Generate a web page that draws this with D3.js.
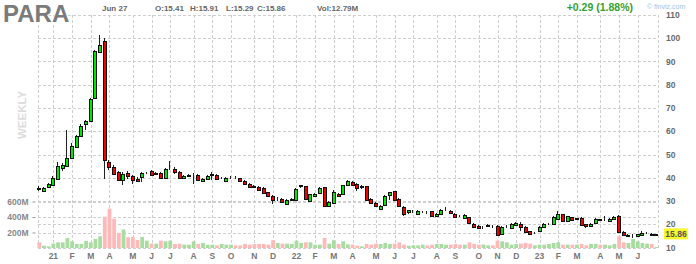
<!DOCTYPE html>
<html>
<head>
<meta charset="utf-8">
<script src="https://cdn.jsdelivr.net/npm/d3@7"></script>
<style>
  body { margin: 0; background: #fff; }
  svg { display: block; font-family: "Liberation Sans", Arial, sans-serif; }
</style>
</head>
<body>
<svg id="chart" width="696" height="264"></svg>
<script>
// weekly bars, PARA, Dec 2020 - Jun 2023
const firstWeek = '2020-12-14';

const opens = [
  35.8, 34.5, 36.2, 37.0, 39.5, 44.2, 45.2, 48.5, 53.2, 58.1,
  63.2, 64.2, 74.2, 94.3, 98.8, 46.6, 44.6, 42.3, 39.2, 42.1,
  40.6, 39.6, 40.2, 42.0, 42.8, 41.5, 42.1, 39.9, 44.0, 43.8,
  42.3, 39.9, 40.8, 41.4, 41.0, 38.5, 39.6, 41.2, 41.2, 39.8,
  38.8, 39.9, 40.1, 39.8, 38.8, 37.5, 36.4, 36.2, 35.6, 33.7,
  32.3, 30.8, 31.0, 28.7, 30.5, 30.3, 36.5, 36.3, 30.2, 32.3,
  33.5, 35.9, 27.7, 29.2, 33.2, 32.8, 36.7, 38.2, 37.3, 36.2,
  36.3, 30.9, 29.2, 26.6, 28.3, 32.7, 34.2, 30.9, 27.4, 25.2,
  25.8, 24.6, 25.2, 25.3, 25.6, 23.5, 24.6, 26.2, 25.9, 24.4,
  23.5, 22.7, 23.0, 20.2, 19.4, 18.8, 19.4, 19.2, 19.2, 15.6,
  18.8, 18.4, 19.6, 20.2, 18.9, 17.0, 16.2, 17.0, 18.9, 20.1,
  20.2, 22.4, 24.2, 21.6, 23.0, 22.4, 22.7, 19.9, 19.4, 20.6,
  22.1, 21.9, 21.6, 22.3, 23.5, 16.6, 15.1, 14.9, 14.9, 15.2,
  16.2, 16.0, 15.41
];
const highs = [
  36.3, 36.1, 37.6, 40.6, 46.6, 46.3, 60.7, 54.9, 58.6, 63.2,
  64.9, 74.2, 95.0, 101.4, 100.0, 47.5, 45.6, 42.8, 42.3, 42.8,
  41.0, 40.2, 42.3, 42.6, 43.2, 42.4, 42.3, 44.2, 47.0, 44.5,
  42.8, 41.3, 41.5, 42.0, 41.6, 40.0, 41.0, 42.3, 41.5, 40.5,
  40.2, 40.8, 40.8, 40.1, 39.1, 37.8, 36.9, 36.5, 35.9, 34.0,
  32.6, 31.8, 31.3, 30.8, 31.2, 35.5, 36.9, 36.6, 33.2, 33.6,
  36.0, 36.2, 29.9, 34.9, 33.6, 37.0, 38.9, 38.6, 37.6, 36.8,
  36.6, 31.2, 29.5, 28.3, 32.6, 34.0, 34.5, 31.2, 27.7, 26.3,
  26.3, 26.0, 25.8, 25.7, 25.9, 24.8, 26.6, 27.4, 26.2, 24.7,
  24.0, 24.2, 23.3, 20.5, 19.7, 19.4, 20.0, 19.6, 19.5, 19.2,
  19.6, 20.5, 20.9, 20.9, 19.2, 17.3, 16.8, 19.2, 20.5, 20.7,
  23.5, 25.9, 24.5, 23.7, 23.3, 22.9, 23.0, 20.2, 20.5, 22.6,
  22.4, 23.4, 22.7, 23.5, 23.8, 16.9, 15.6, 15.9, 16.0, 16.9,
  16.8, 16.3, 15.91
];
const lows = [
  34.2, 34.0, 35.9, 36.8, 39.2, 42.8, 44.9, 48.1, 52.8, 57.8,
  60.7, 63.9, 74.0, 93.5, 39.6, 43.5, 41.0, 38.5, 37.0, 39.6,
  37.5, 38.0, 38.2, 41.6, 41.0, 41.2, 39.6, 39.6, 43.5, 41.6,
  39.6, 39.5, 40.3, 37.5, 38.9, 38.0, 39.3, 39.2, 39.2, 39.3,
  38.5, 39.4, 39.3, 38.5, 37.0, 35.6, 35.7, 34.5, 33.2, 31.9,
  28.7, 30.2, 29.2, 28.3, 30.2, 30.0, 35.4, 30.6, 29.9, 32.0,
  33.2, 27.4, 27.3, 29.0, 32.0, 32.5, 36.4, 36.7, 34.5, 35.3,
  30.3, 28.9, 27.5, 26.0, 28.0, 30.6, 30.3, 27.7, 23.5, 24.2,
  25.0, 24.3, 24.8, 24.6, 23.4, 23.2, 24.3, 25.8, 24.6, 22.9,
  23.0, 22.4, 20.3, 18.6, 18.1, 18.0, 19.0, 18.6, 14.9, 15.3,
  18.4, 18.1, 19.3, 17.3, 16.4, 15.7, 15.8, 16.7, 18.6, 19.8,
  19.9, 22.0, 21.3, 21.3, 21.7, 22.0, 19.3, 18.6, 19.1, 20.3,
  21.5, 21.3, 21.3, 22.0, 16.3, 14.9, 14.6, 14.1, 14.6, 15.0,
  15.9, 15.2, 15.29
];
const closes = [
  35.0, 35.4, 37.1, 39.9, 45.2, 45.6, 48.5, 53.8, 58.1, 62.4,
  64.2, 73.9, 94.5, 97.1, 47.8, 44.6, 41.8, 38.9, 41.6, 40.6,
  39.2, 38.8, 42.1, 42.2, 41.3, 41.9, 39.9, 43.8, 44.2, 42.3,
  39.9, 40.9, 41.0, 41.6, 39.2, 39.5, 40.6, 41.4, 39.5, 40.0,
  39.8, 40.1, 39.9, 38.8, 37.3, 36.0, 36.2, 34.9, 33.5, 32.3,
  30.6, 31.0, 29.5, 30.5, 30.7, 35.2, 36.7, 30.9, 32.8, 33.2,
  35.6, 27.7, 29.5, 33.7, 32.3, 36.7, 38.5, 37.0, 35.6, 36.4,
  30.6, 29.2, 27.8, 28.0, 32.3, 33.7, 30.6, 28.0, 24.2, 26.0,
  25.9, 25.6, 25.3, 25.1, 23.7, 24.5, 26.3, 26.3, 24.9, 23.2,
  23.4, 23.9, 20.6, 18.9, 18.4, 18.9, 19.5, 19.1, 15.2, 18.9,
  19.0, 20.2, 20.6, 18.7, 16.7, 16.0, 16.4, 18.9, 20.2, 20.3,
  23.2, 24.4, 21.6, 23.4, 22.0, 22.5, 19.6, 19.2, 20.2, 22.3,
  21.9, 22.0, 22.4, 23.2, 16.6, 15.2, 15.3, 15.0, 15.6, 16.3,
  16.3, 15.57, 15.86
];
// weekly volume, millions of shares
const volumes = [
  73, 30, 21, 56, 73, 73, 130, 86, 52, 52,
  91, 73, 117, 152, 404, 508, 378, 195, 239, 139,
  143, 104, 143, 95, 56, 56, 95, 86, 95, 52,
  56, 43, 43, 86, 52, 65, 43, 43, 34, 52,
  43, 43, 34, 34, 52, 43, 52, 52, 52, 43,
  100, 65, 56, 56, 52, 95, 65, 73, 73, 43,
  43, 130, 56, 100, 52, 86, 47, 43, 30, 21,
  52, 43, 56, 52, 65, 52, 56, 73, 43, 30,
  34, 34, 43, 34, 43, 52, 52, 43, 43, 52,
  43, 43, 73, 52, 43, 43, 34, 34, 95, 86,
  73, 43, 52, 56, 65, 56, 34, 43, 43, 52,
  65, 73, 43, 43, 43, 43, 52, 34, 52, 52,
  43, 43, 34, 52, 152, 73, 65, 117, 86, 65,
  56, 52, 13
];

const monthTicks = [
  '2021-01-04', '2021-02-01', '2021-03-01', '2021-03-29', '2021-05-03', '2021-05-31',
  '2021-06-28', '2021-08-02', '2021-08-30', '2021-09-27', '2021-11-01', '2021-11-29',
  '2022-01-03', '2022-01-31', '2022-02-28', '2022-03-28', '2022-05-02', '2022-05-30',
  '2022-06-27', '2022-08-01', '2022-08-29', '2022-10-03', '2022-10-31', '2022-11-28',
  '2023-01-02', '2023-01-30', '2023-02-27', '2023-04-03', '2023-05-01', '2023-05-29'
];
const monthLabels = [
  '21', 'F', 'M', 'A', 'M', 'J', 'J', 'A', 'S', 'O', 'N', 'D',
  '22', 'F', 'M', 'A', 'M', 'J', 'J', 'A', 'S', 'O', 'N', 'D',
  '23', 'F', 'M', 'A', 'M', 'J'
];
const priceTicks = [10, 20, 30, 40, 50, 60, 70, 80, 90, 100, 110];
const volumeTicks = [200, 400, 600];

const header = { date: 'Jun 27', open: '15.41', high: '15.91', low: '15.29', close: '15.86', vol: '12.79M', change: '+0.29 (1.88%)' };

const svg = d3.select('#chart');
const plotLeft = 38;
const plotRight = 658;
const plotTop = 15;
const plotBottom = 248;

const dayFmt = d3.utcFormat('%Y-%m-%d');
const start = d3.utcParse('%Y-%m-%d')(firstWeek);
const weeks = d3.utcMonday.range(start, d3.utcDay.offset(start, 7 * opens.length)).map(dayFmt);

const bars = weeks.map((week, i) => ({
  week,
  open: opens[i],
  high: highs[i],
  low: lows[i],
  close: closes[i],
  volume: volumes[i],
  up: closes[i] >= opens[i],
}));

const x = d3.scaleBand().domain(weeks).range([37, 658.8]).padding(0);
const cx = (week) => x(week) + x.bandwidth() / 2;
const y = d3.scaleLinear().domain([10, 110]).range([247.5, 15]);
const yVol = d3.scaleLinear().domain([0, 600]).range([248, 201.5]);

const gridColor = '#cfcfcf';
const grid = svg.append('g')
  .attr('stroke', gridColor)
  .attr('stroke-dasharray', '3,2')
  .attr('shape-rendering', 'crispEdges');

grid.selectAll('line.price')
  .data(priceTicks)
  .join('line')
  .attr('class', 'price')
  .attr('x1', plotLeft)
  .attr('x2', plotRight)
  .attr('y1', (d) => Math.round(y(d)) + 0.5)
  .attr('y2', (d) => Math.round(y(d)) + 0.5);

grid.selectAll('line.vol')
  .data(volumeTicks)
  .join('line')
  .attr('class', 'vol')
  .attr('x1', plotLeft)
  .attr('x2', plotRight)
  .attr('y1', (d) => Math.round(yVol(d)) + 0.5)
  .attr('y2', (d) => Math.round(yVol(d)) + 0.5);

grid.selectAll('line.month')
  .data(monthTicks)
  .join('line')
  .attr('class', 'month')
  .attr('x1', (d) => Math.round(cx(d)) + 0.5)
  .attr('x2', (d) => Math.round(cx(d)) + 0.5)
  .attr('y1', plotTop)
  .attr('y2', plotBottom);

grid.selectAll('line.edge')
  .data([plotLeft, plotRight])
  .join('line')
  .attr('class', 'edge')
  .attr('x1', (d) => d + 0.5)
  .attr('x2', (d) => d + 0.5)
  .attr('y1', plotTop)
  .attr('y2', plotBottom);

// volume
svg.append('g')
  .selectAll('rect')
  .data(bars)
  .join('rect')
  .attr('x', (d) => cx(d.week) - 1.9)
  .attr('width', 3.8)
  .attr('y', (d) => yVol(d.volume))
  .attr('height', (d) => yVol(0) - yVol(d.volume))
  .attr('fill', (d) => (d.up ? '#a9dca1' : '#ffb9b9'));

// candles
const candles = svg.append('g').attr('shape-rendering', 'crispEdges');

candles.selectAll('line')
  .data(bars)
  .join('line')
  .attr('x1', (d) => Math.round(cx(d.week)) - 0.5)
  .attr('x2', (d) => Math.round(cx(d.week)) - 0.5)
  .attr('y1', (d) => y(d.high))
  .attr('y2', (d) => y(d.low))
  .attr('stroke', '#222');

candles.selectAll('rect')
  .data(bars)
  .join('rect')
  .attr('x', (d) => Math.round(cx(d.week)) - 1.5)
  .attr('width', 3)
  .attr('y', (d) => Math.round(y(Math.max(d.open, d.close))) + 0.5)
  .attr('height', (d) => Math.max(0, Math.round(y(Math.min(d.open, d.close))) - Math.round(y(Math.max(d.open, d.close)))))
  .attr('fill', (d) => (d.up ? '#00e600' : '#f40000'))
  .attr('stroke', '#111');

// price axis
const priceAxis = svg.append('g')
  .attr('transform', `translate(${plotRight},0)`)
  .call(d3.axisRight(y).tickValues(priceTicks).tickSize(0).tickPadding(8));
priceAxis.select('.domain').remove();
priceAxis.selectAll('text')
  .attr('fill', '#6a6a6a')
  .style('font', 'bold 8.5px "Liberation Sans", Arial, sans-serif');

// volume axis
const volAxis = svg.append('g')
  .attr('transform', 'translate(35.5,0)')
  .call(d3.axisLeft(yVol).tickValues(volumeTicks).tickSize(3).tickPadding(4).tickFormat((d) => `${d}M`));
volAxis.select('.domain').remove();
volAxis.selectAll('line').attr('stroke', '#999');
volAxis.selectAll('text')
  .attr('fill', '#888')
  .style('font', 'bold 8.5px "Liberation Sans", Arial, sans-serif');

// month axis
const monthAxis = svg.append('g')
  .attr('transform', `translate(0,${plotBottom})`)
  .call(d3.axisBottom(x).tickValues(monthTicks).tickSize(0).tickPadding(5).tickFormat((d, i) => monthLabels[i]));
monthAxis.select('.domain').remove();
monthAxis.selectAll('text')
  .attr('fill', '#777')
  .style('font', 'bold 8.5px "Liberation Sans", Arial, sans-serif');

// last price marker
const lastBar = bars[bars.length - 1];
const marker = svg.append('g').attr('transform', `translate(664,${y(lastBar.close)})`);
marker.append('rect')
  .attr('x', 0)
  .attr('y', -5.5)
  .attr('width', 24)
  .attr('height', 11)
  .attr('fill', '#f7f72c');
marker.append('text')
  .attr('x', 12)
  .attr('y', 3)
  .attr('text-anchor', 'middle')
  .attr('fill', '#555')
  .style('font', 'bold 8.5px "Liberation Sans", Arial, sans-serif')
  .text(lastBar.close.toFixed(2));

// watermark
svg.append('text')
  .attr('transform', 'translate(26,115) rotate(-90)')
  .attr('text-anchor', 'middle')
  .attr('fill', '#dcdcdc')
  .style('font', 'bold 11.5px "Liberation Sans", Arial, sans-serif')
  .text('WEEKLY');

// header
svg.append('text')
  .attr('x', 3)
  .attr('y', 22)
  .attr('fill', '#7b7b7b')
  .attr('stroke', '#fff')
  .attr('stroke-width', 2)
  .attr('paint-order', 'stroke')
  .style('font', 'bold 24px "Liberation Sans", Arial, sans-serif')
  .text('PARA');

const info = [
  { x: 102, text: header.date },
  { x: 155, text: `O:${header.open}` },
  { x: 190, text: `H:${header.high}` },
  { x: 226, text: `L:${header.low}` },
  { x: 257, text: `C:${header.close}` },
  { x: 317, text: `Vol:${header.vol}` },
];
svg.append('g')
  .selectAll('text')
  .data(info)
  .join('text')
  .attr('x', (d) => d.x)
  .attr('y', 11)
  .attr('fill', '#666')
  .style('font', 'bold 8px "Liberation Sans", Arial, sans-serif')
  .text((d) => d.text);

svg.append('text')
  .attr('x', 633)
  .attr('y', 11)
  .attr('text-anchor', 'end')
  .attr('fill', '#33a133')
  .style('font', 'bold 10.5px "Liberation Sans", Arial, sans-serif')
  .text(header.change);

svg.append('text')
  .attr('x', 647)
  .attr('y', 8.5)
  .attr('fill', '#9cc4ea')
  .style('font', '7px "Liberation Sans", Arial, sans-serif')
  .text('\u00a9 finviz.com');
</script>
</body>
</html>
